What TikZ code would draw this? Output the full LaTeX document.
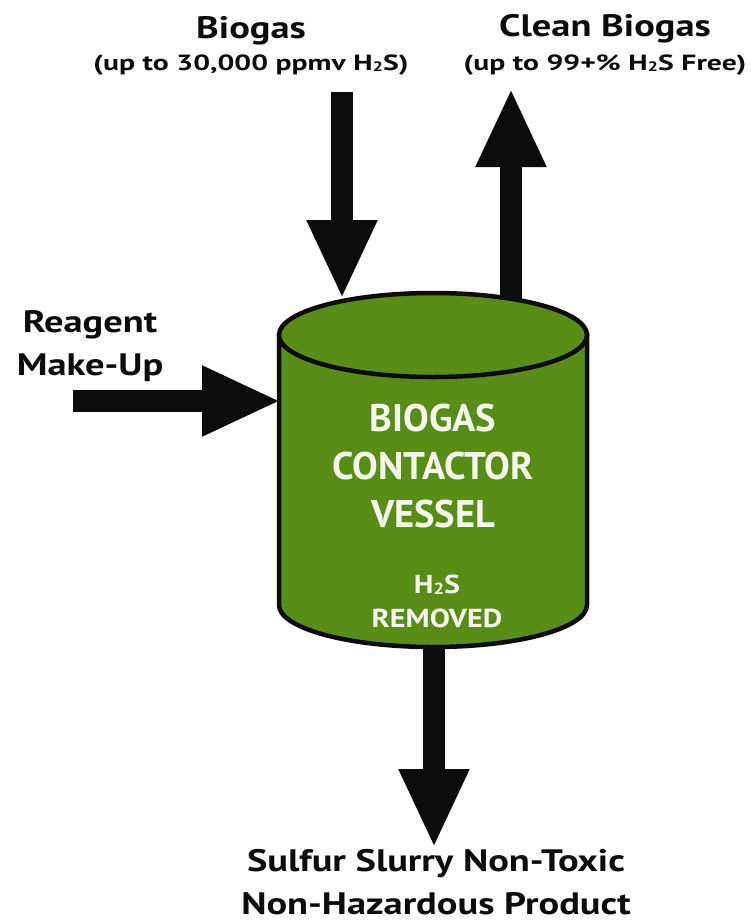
\documentclass[tikz,border=0pt]{standalone}
\usepackage{fontspec}
\setmainfont{PT Sans}
\usetikzlibrary{arrows.meta}
\definecolor{vesselgreen}{RGB}{90,140,24}
\definecolor{inkblack}{RGB}{12,12,12}
\definecolor{labelwhite}{RGB}{244,248,236}
% hydrogen sulfide with a small subscript
\newcommand{\hts}{H\raisebox{-0.1ex}{\scalebox{0.62}{2}}S}
% widened lettering for the outside labels
\newcommand{\wideh}[1]{\scalebox{1.24}[1]{#1}}
\newcommand{\widesub}[1]{\scalebox{1.35}[1]{#1}}
\newcommand{\widein}[1]{\scalebox{1.16}[1]{#1}}
\begin{document}
\begin{tikzpicture}[x=1pt,y=1pt,
  flow/.style={draw=inkblack,line width=22pt,
    -{Triangle[length=79pt,width=65pt]}},
  head/.style={font=\bfseries\fontsize{31}{43}\selectfont,text=inkblack,inner sep=0pt,align=center},
  sub/.style={font=\bfseries\fontsize{22}{26}\selectfont,text=inkblack,inner sep=0pt},
  inside/.style={font=\bfseries\fontsize{38.5}{48}\selectfont,text=labelwhite,inner sep=0pt,align=center},
  insidesmall/.style={font=\bfseries\fontsize{26}{34}\selectfont,text=labelwhite,inner sep=0pt,align=center}]
\useasboundingbox (0,0) rectangle (751,-924);
\fill[white] (0,0) rectangle (751,-924);

% contactor vessel body and lid
\draw[line width=4.5pt,fill=vesselgreen,draw=inkblack]
  (279,-335) -- (279,-605) arc[start angle=180,end angle=360,x radius=154,y radius=42]
  -- (587,-335) -- cycle;
\draw[line width=4.5pt,fill=vesselgreen,draw=inkblack]
  (433,-335) ellipse[x radius=154,y radius=42];

% anchor points on the vessel
\coordinate (inlet) at (342,-299);
\coordinate (outlet) at (511,-300);
\coordinate (side) at (281,-401);
\coordinate (drain) at (434,-648);

% free ends of the flows
\coordinate (gasin) at (342,-92);
\coordinate (gasout) at (511,-88);
\coordinate (reagent) at (73,-401);
\coordinate (slurry) at (434,-848);

\draw[flow] (gasin) -- (inlet);
\draw[flow] (outlet) -- (gasout);
\draw[flow] (reagent) -- (side);
\draw[flow] (drain) -- (slurry);

% labels
\node[head] (tbiogas) at (251,-31) {\wideh{Biogas}};
\node[sub] (tbiogassub) at (251,-65) {\widesub{(up to 30,000 ppmv \hts)}};
\node[head] (tclean) at (605,-29) {\wideh{Clean Biogas}};
\node[sub] (tcleansub) at (605,-65) {\widesub{(up to 99+\% \hts\ Free)}};
\node[head,text depth=0pt] (treagent) at (90,-342.5) {\wideh{Reagent}\\\wideh{Make-Up}};
\node[head] (tslurry) at (436,-882) {\wideh{Sulfur Slurry Non-Toxic}\\\wideh{Non-Hazardous Product}};

\node[inside] (tvessel) at (433,-466) {BIOGAS\\CONTACTOR\\VESSEL};
\node[insidesmall] (tremoved) at (437,-601) {\widein{\hts}\\\widein{REMOVED}};
\end{tikzpicture}
\end{document}
